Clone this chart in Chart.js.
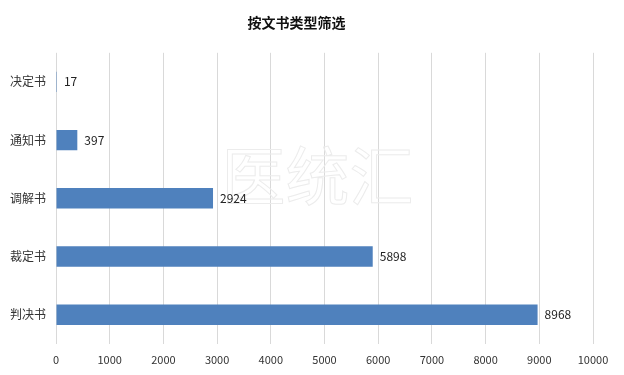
<!DOCTYPE html>
<html>
<head>
<meta charset="utf-8">
<script src="https://cdn.jsdelivr.net/npm/chart.js@4"></script>
<style>
  html, body { margin: 0; padding: 0; background: #fff; }
  #wrap { width: 624px; height: 375px; }
</style>
</head>
<body>
<div id="wrap"><canvas id="docType"></canvas></div>
<script>
// data
const categories = ['决定书', '通知书', '调解书', '裁定书', '判决书'];
const counts = [17, 397, 2924, 5898, 8968];
const xTicks = [0, 1000, 2000, 3000, 4000, 5000, 6000, 7000, 8000, 9000, 10000];
const titleText = '按文书类型筛选';
const watermark = '医统汇';

const FONT = '"Noto Sans CJK SC", "Microsoft YaHei", sans-serif';

// value labels right of each bar
const valueLabels = {
    id: 'valueLabels',
    afterDatasetsDraw(chart) {
        let ctx = chart.ctx;
        let meta = chart.getDatasetMeta(0);
        ctx.save();
        ctx.font = '12px ' + FONT;
        ctx.fillStyle = '#222';
        ctx.textAlign = 'left';
        ctx.textBaseline = 'middle';
        meta.data.forEach(function(bar, i) {
            ctx.fillText(String(counts[i]), bar.x + 7, bar.y);
        });
        ctx.restore();
    }
};

// faint watermark behind the bars
const watermarkText = {
    id: 'watermarkText',
    beforeDatasetsDraw(chart) {
        let ctx = chart.ctx;
        let a = chart.chartArea;
        ctx.save();
        ctx.font = '64px ' + FONT;
        ctx.strokeStyle = '#ececec';
        ctx.lineWidth = 1;
        ctx.textAlign = 'center';
        ctx.textBaseline = 'middle';
        ctx.strokeText(watermark, (a.left + a.right) / 2 - 7, 176);
        ctx.restore();
    }
};

let ctx = document.getElementById('docType').getContext('2d');

var chart = new Chart(ctx, {
    type: 'bar',
    data: {
        labels: categories,
        datasets: [{
            data: counts,
            backgroundColor: '#4f81bd',
            borderWidth: 0,
            categoryPercentage: 1,
            barPercentage: 0.35
        }]
    },
    options: {
        indexAxis: 'y',
        responsive: true,
        maintainAspectRatio: false,
        animation: false,
        layout: { padding: { left: 0, right: 31, top: 0, bottom: 0 } },
        plugins: {
            legend: { display: false },
            tooltip: { enabled: false },
            title: {
                display: true,
                text: titleText,
                color: '#111',
                font: { family: FONT, size: 14, weight: 'bold' },
                padding: { top: 14, bottom: 22 }
            }
        },
        scales: {
            x: {
                min: 0,
                max: 10000,
                afterBuildTicks: function(axis) {
                    axis.ticks = xTicks.map(v => ({ value: v }));
                },
                grid: { color: '#d9d9d9', drawTicks: false },
                border: { display: false },
                ticks: {
                    color: '#333',
                    font: { family: FONT, size: 11 },
                    padding: 9,
                    maxRotation: 0,
                    callback: function(v) { return String(v); }
                }
            },
            y: {
                grid: { display: false, drawTicks: false },
                border: { display: false },
                ticks: {
                    color: '#333',
                    font: { family: FONT, size: 12 },
                    padding: 10
                }
            }
        }
    },
    plugins: [watermarkText, valueLabels]
});
</script>
</body>
</html>
